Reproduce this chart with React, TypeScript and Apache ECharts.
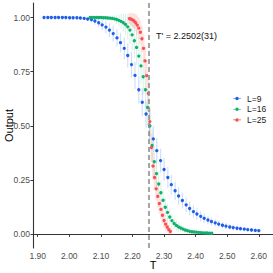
import React, { useEffect, useRef } from "react";
import * as echarts from "echarts";

const T_L9 = [1.920,1.932,1.943,1.955,1.966,1.978,1.989,2.001,2.012,2.024,2.035,2.047,2.058,2.070,2.081,2.093,2.104,2.116,2.127,2.139,2.151,2.162,2.174,2.185,2.197,2.208,2.220,2.231,2.243,2.254,2.266,2.277,2.289,2.300,2.312,2.323,2.335,2.346,2.358,2.370,2.381,2.393,2.404,2.416,2.427,2.439,2.450,2.462,2.473,2.485,2.496,2.508,2.519,2.531,2.542,2.554,2.565,2.577,2.589,2.600];
const OUT_L9 = [1.000,1.000,1.000,1.000,1.000,1.000,1.000,0.999,0.999,0.999,
0.998,0.996,0.993,0.990,0.984,0.976,0.966,0.956,0.942,0.926,
0.906,0.884,0.858,0.825,0.783,0.733,0.667,0.609,0.555,0.500,
0.440,0.386,0.340,0.299,0.262,0.229,0.201,0.177,0.156,0.136,
0.119,0.105,0.094,0.083,0.074,0.066,0.059,0.053,0.047,0.042,
0.038,0.034,0.031,0.028,0.026,0.024,0.022,0.020,0.018,0.017];
const ERR_L9 = [0.002,0.002,0.002,0.002,0.002,0.002,0.003,0.003,0.004,0.005,
0.006,0.008,0.010,0.013,0.017,0.020,0.024,0.028,0.032,0.036,
0.040,0.045,0.050,0.055,0.060,0.063,0.065,0.065,0.063,0.062,
0.060,0.058,0.055,0.052,0.049,0.046,0.043,0.040,0.037,0.034,
0.031,0.028,0.026,0.024,0.022,0.020,0.018,0.017,0.016,0.015,
0.014,0.013,0.012,0.012,0.011,0.010,0.010,0.009,0.009,0.008];

const T_L16 = [2.066,2.073,2.080,2.087,2.094,2.101,2.108,2.115,2.122,2.129,2.136,2.143,2.150,2.157,2.164,2.171,2.178,2.185,2.192,2.199,2.206,2.213,2.220,2.227,2.234,2.241,2.248,2.255,2.262,2.269,2.276,2.283,2.290,2.297,2.304,2.311,2.318,2.325,2.332,2.339,2.346,2.353,2.360,2.367,2.374,2.381,2.388,2.395,2.402,2.409,2.416,2.423,2.430,2.437,2.444,2.451];
const OUT_L16 = [1.000,1.000,1.000,1.000,1.000,1.000,0.999,0.999,0.998,0.997,
0.996,0.994,0.991,0.987,0.982,0.976,0.968,0.957,0.942,0.920,
0.893,0.862,0.822,0.777,0.727,0.667,0.585,0.500,0.410,0.335,
0.280,0.232,0.192,0.157,0.125,0.101,0.080,0.063,0.050,0.041,
0.034,0.029,0.024,0.020,0.017,0.014,0.012,0.011,0.010,0.009,
0.008,0.007,0.006,0.006,0.005,0.005];
const ERR_L16 = [0.002,0.002,0.002,0.003,0.003,0.004,0.005,0.006,0.008,0.010,
0.012,0.015,0.020,0.027,0.034,0.042,0.050,0.058,0.065,0.072,
0.078,0.082,0.085,0.085,0.085,0.085,0.085,0.082,0.078,0.072,
0.066,0.060,0.055,0.050,0.045,0.040,0.035,0.030,0.027,0.024,
0.021,0.018,0.016,0.014,0.012,0.011,0.010,0.009,0.008,0.008,
0.007,0.007,0.006,0.006,0.006,0.006];

const T_L25 = [2.190,2.195,2.200,2.205,2.210,2.215,2.220,2.225,2.230,2.235,2.240,2.245,2.250,2.255,2.260,2.265,2.270,2.275,2.280,2.285,2.290,2.295,2.300,2.305,2.310,2.315,2.320];
const OUT_L25 = [0.995,0.993,0.989,0.984,0.976,0.965,0.951,0.932,0.902,0.858,
0.800,0.732,0.650,0.520,0.400,0.315,0.262,0.210,0.175,0.142,
0.115,0.088,0.064,0.047,0.034,0.022,0.013];
const ERR_L25 = [0.025,0.028,0.032,0.036,0.040,0.045,0.050,0.055,0.060,0.065,
0.070,0.072,0.072,0.070,0.066,0.062,0.058,0.054,0.050,0.046,
0.042,0.038,0.034,0.030,0.026,0.022,0.018];

const SERIES_NAMES = ["L=9", "L=16", "L=25"];
const COLORS = ["#1f5fe8", "#12b06c", "#fb4f4f"];
const ERR_COLORS = ["rgba(40,110,240,0.22)", "rgba(20,180,110,0.18)", "rgba(255,90,90,0.16)"];
const ERR_WIDTHS = [1.2, 1.0, 1.8];
const X_TICKS = [1.9, 2.0, 2.1, 2.2, 2.3, 2.4, 2.5, 2.6];
const Y_TICKS = [0, 0.25, 0.5, 0.75, 1.0];
const T_PRIME = 2.2502;
const T_PRIME_LABEL = "T' = 2.2502(31)";

const FONT = "'Liberation Sans', Arial, sans-serif";
const LEGEND_ICON =
  "path://M0,4.6H2.9V5.4H0Z M7.1,4.6H10V5.4H7.1Z M7.2,5A2.2,2.2,0,1,1,2.8,5A2.2,2.2,0,1,1,7.2,5Z";

export default function App() {
  const ref = useRef<HTMLDivElement>(null);
  useEffect(() => {
    if (!ref.current) return;
    const chart = echarts.init(ref.current, null, { renderer: "svg" });
    const groups = [
      [T_L9, OUT_L9, ERR_L9],
      [T_L16, OUT_L16, ERR_L16],
      [T_L25, OUT_L25, ERR_L25],
    ];
    const errSeries = groups.map((g, i) => ({
      type: "custom",
      name: SERIES_NAMES[i] + " err",
      silent: true,
      z: 1,
      clip: true,
      data: g[0].map((t: number, j: number) => [t, g[1][j], g[2][j]]),
      encode: { x: 0, y: 1 },
      renderItem: (params: any, api: any) => {
        const x = api.value(0);
        const y = api.value(1);
        const e = api.value(2);
        const p1 = api.coord([x, y - e]);
        const p2 = api.coord([x, y + e]);
        return {
          type: "line",
          shape: { x1: p1[0], y1: p1[1], x2: p2[0], y2: p2[1] },
          style: { stroke: ERR_COLORS[i], lineWidth: ERR_WIDTHS[i] },
        };
      },
    }));
    const ptSeries = groups.map((g, i) => ({
      type: "scatter",
      name: SERIES_NAMES[i],
      z: 3,
      symbol: "circle",
      symbolSize: 3.3,
      itemStyle: { color: COLORS[i], opacity: 1 },
      data: g[0].map((t: number, j: number) => [t, g[1][j]]),
      ...(i === 2
        ? {
            markLine: {
              silent: true,
              symbol: "none",
              z: 5,
              label: { show: false },
              lineStyle: { color: "#8f8f8f", type: [5, 3], width: 1.6 },
              data: [{ xAxis: T_PRIME }],
            },
          }
        : {}),
    }));
    chart.setOption({
      animation: false,
      textStyle: { fontFamily: FONT },
      grid: {
        left: 33,
        right: 0,
        top: 3,
        bottom: 25,
        containLabel: false,
        outerBoundsMode: "none",
      },
      xAxis: {
        type: "value",
        min: 1.885,
        max: 2.645,
        name: "T",
        nameLocation: "middle",
        nameGap: 11,
        nameMoveOverlap: false,
        nameTextStyle: { fontSize: 11, color: "#000", fontFamily: FONT },
        splitLine: { show: false },
        axisLine: { show: true, lineStyle: { color: "#333", width: 1.1 } },
        axisTick: { show: true, length: 2.5, lineStyle: { color: "#333" }, customValues: X_TICKS },
        axisLabel: {
          customValues: X_TICKS,
          formatter: (v: number) => v.toFixed(2),
          fontSize: 8.5,
          color: "#4d4d4d",
          margin: 3,
          fontFamily: FONT,
        },
      },
      yAxis: {
        type: "value",
        min: -0.063,
        max: 1.067,
        name: "Output",
        nameLocation: "middle",
        nameGap: 19,
        nameMoveOverlap: false,
        nameRotate: 90,
        nameTextStyle: { fontSize: 11, color: "#000", fontFamily: FONT },
        splitLine: { show: false },
        axisLine: { show: true, lineStyle: { color: "#333", width: 1.1 } },
        axisTick: { show: true, length: 2.5, lineStyle: { color: "#333" }, customValues: Y_TICKS },
        axisLabel: {
          customValues: Y_TICKS,
          formatter: (v: number) => v.toFixed(2),
          fontSize: 8.5,
          color: "#4d4d4d",
          margin: 3,
          fontFamily: FONT,
        },
      },
      legend: {
        data: SERIES_NAMES,
        orient: "vertical",
        left: 233,
        top: 94,
        padding: 0,
        itemGap: 1.7,
        itemWidth: 8,
        itemHeight: 8,
        icon: LEGEND_ICON,
        textStyle: { fontSize: 8.5, color: "#1a1a1a", fontFamily: FONT, padding: [0, 0, 0, 1] },
      },
      graphic: [
        {
          type: "text",
          left: 156,
          top: 31,
          style: { text: T_PRIME_LABEL, fontSize: 9, fill: "#111", fontFamily: FONT },
        },
      ],
      series: [...errSeries, ...ptSeries],
    });
    return () => chart.dispose();
  }, []);
  return (
    <div
      ref={ref}
      style={{ position: "fixed", left: 0, top: 0, width: 273, height: 273, background: "#fff" }}
    />
  );
}
